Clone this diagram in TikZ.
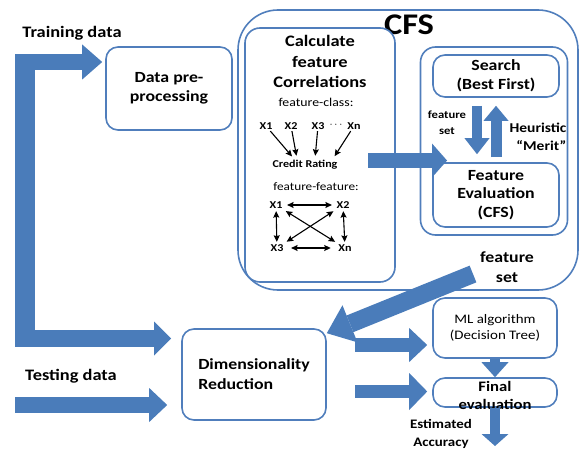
\documentclass[tikz,border=0pt]{standalone}
\usepackage{fontspec}
\setmainfont{Carlito}[FakeStretch=1.15]
\usetikzlibrary{arrows.meta,positioning}

\definecolor{boxblue}{RGB}{80,126,188}
\definecolor{arrowblue}{RGB}{74,124,186}

\newcommand{\fsz}[2]{\fontsize{#1}{#2}\selectfont}

\begin{document}
\begin{tikzpicture}[x=1pt,y=-1pt,
    box/.style={draw=boxblue, line width=1.6pt, rounded corners=12pt,
                fill=white, align=center, inner sep=2pt},
    fat/.style n args={3}{draw=arrowblue, line width=#1,
                -{Triangle[width=#2,length=#3,line width=0pt,color=arrowblue,fill=arrowblue]}},
    corr/.style={line width=1.1pt, -{Stealth[length=6.5pt,width=6pt,inset=1pt]}},
    corr2/.style={line width=1.1pt,
                {Stealth[length=6.5pt,width=6pt,inset=1pt]}-{Stealth[length=6.5pt,width=6pt,inset=1pt]}},
    xvar/.style={font=\bfseries\fsz{10.5}{12}, inner sep=1.5pt},
    head/.style={font=\bfseries\fsz{15.5}{19.5}, align=center, inner sep=0pt}]

  \useasboundingbox (0,0) rectangle (581,449);

  % inputs
  \node[head, font=\bfseries\fsz{16}{19}] (train) at (72,33)  {Training data};
  \node[head, font=\bfseries\fsz{16}{19}] (test)  at (71,376) {Testing data};

  \node[box, minimum width=126pt, minimum height=83pt, font=\bfseries\fsz{15.5}{19.5}]
        (prep) at (169,88.5) {Data pre-\\processing};

  % CFS block
  \node[box, minimum width=340pt, minimum height=280pt, rounded corners=40pt]
        (cfs) at (408,150) {};
  \node[font=\bfseries\fsz{30}{30}, inner sep=0pt] (cfstitle) at (409,25) {CFS};

  \node[box, minimum width=150pt, minimum height=254pt, rounded corners=15pt]
        (calc) at (320,155) {};
  \node[head, font=\bfseries\fsz{16}{20.5}] (calctitle) at (320,61.5)
        {Calculate\\feature\\Correlations};
  \node[font=\fsz{12}{14}, inner sep=0pt] (fclass) at (316,102) {feature-class:};

  \node[xvar] (c1)    at (266,126) {X1};
  \node[xvar] (c2)    at (291,126) {X2};
  \node[xvar] (c3)    at (318,126) {X3};
  \node[xvar] (cdots) at (336,125) {$\cdots$};
  \node[xvar] (cn)    at (354,126) {Xn};
  \node[xvar] (cr)    at (305,165) {Credit Rating};

  \draw[corr, shorten >=3pt] (c1) -- ([xshift=-11pt]cr.north);
  \draw[corr, shorten >=3pt] (c2) -- ([xshift=-8pt]cr.north);
  \draw[corr, shorten >=3pt] (c3) -- ([xshift=10pt]cr.north);
  \draw[corr, shorten >=3pt] (cn) -- ([xshift=28pt]cr.north);

  \node[font=\fsz{11.5}{14}, inner sep=0pt] (ffeat) at (316,187) {feature-feature:};
  \node[xvar] (f1) at (276,205) {X1};
  \node[xvar] (f2) at (343,205) {X2};
  \node[xvar] (f3) at (277,248) {X3};
  \node[xvar] (f4) at (345,248) {Xn};

  \draw[corr2, shorten <=3pt, shorten >=3pt] (f1) -- (f2);
  \draw[corr2, shorten <=1pt, shorten >=1pt] (f1) -- (f3);
  \draw[corr2, shorten <=1pt, shorten >=1pt] (f2) -- (f4);
  \draw[corr2, shorten <=6pt, shorten >=6pt] (f3) -- (f4);
  \draw[corr2, shorten <=2pt, shorten >=2pt] (f1) -- (f4);
  \draw[corr2, shorten <=2pt, shorten >=2pt] (f2) -- (f3);

  % search loop
  \node[box, minimum width=147pt, minimum height=188pt, rounded corners=15pt]
        (loop) at (494,141) {};
  \node[box, minimum width=126pt, minimum height=42pt, font=\bfseries\fsz{15.5}{19}]
        (search) at (496,76) {Search\\(Best First)};
  \node[box, minimum width=126pt, minimum height=64pt, font=\bfseries\fsz{15.5}{18.5}]
        (feval) at (496,195) {Feature\\Evaluation\\(CFS)};

  \draw[fat={10pt}{25pt}{16pt}, shorten <=8pt, shorten >=8pt]
        ([xshift=-19pt]search.south) -- ([xshift=-19pt]feval.north);
  \draw[fat={11pt}{25pt}{15pt}, shorten <=5pt, shorten >=8pt]
        (feval.north) -- (search.south);
  \node[font=\bfseries\fsz{11}{16}, align=center, inner sep=0pt] (fsetin) at (447,123)
        {feature\\set};
  \node[font=\bfseries\fsz{13.5}{18}, align=right, inner sep=0pt] (merit) at (538,137)
        {Heuristic\\“Merit”};

  \coordinate (calcout) at (368,160.5);
  \coordinate (evalin)  at (447,160.5);
  \draw[fat={15pt}{34pt}{15pt}] (calcout) -- (evalin);

  \node[head, font=\bfseries\fsz{15.5}{20}] (fsetout) at (507,267) {feature\\set};

  % classification
  \node[box, minimum width=144pt, minimum height=91pt, align=left,
        font=\bfseries\fsz{15.5}{20}] (dimred) at (254,374.5) {Dimensionality\\Reduction};
  \node[box, minimum width=124pt, minimum height=60pt, font=\fsz{13}{16}]
        (ml) at (495,328) {ML algorithm\\(Decision Tree)};
  \node[box, minimum width=124pt, minimum height=29pt] (final) at (495,392.5) {};
  \node[head, font=\bfseries\fsz{14.5}{18}] (finaltxt) at (495,395) {Final\\evaluation};
  \node[head, font=\bfseries\fsz{13}{18}] (acc) at (441,434) {Estimated\\Accuracy};

  % block arrows
  \coordinate (trunktop) at (25,62);
  \coordinate (trunkbot) at (25,338.5);
  \coordinate (testin)   at (15,405);
  \fill[arrowblue] (15,54) rectangle (35,347);
  \draw[fat={16pt}{35pt}{20pt}, shorten >=3pt]  (trunktop) -- (trunktop -| prep.west);
  \draw[fat={17pt}{34pt}{17pt}, shorten >=10pt] (trunkbot) -- (trunkbot -| dimred.west);
  \draw[fat={16pt}{34pt}{18pt}, shorten >=14pt] (testin) -- (testin -| dimred.west);

  \coordinate (fsetstart) at (473,274);
  \draw[fat={18pt}{40pt}{25pt}] (fsetstart) -- ([yshift=-5pt]dimred.north east);

  \coordinate (dimout1) at (355,345);
  \coordinate (dimout2) at (355,391.5);
  \draw[fat={14pt}{34pt}{18pt}, shorten >=5pt] (dimout1) -- (dimout1 -| ml.west);
  \draw[fat={13pt}{37pt}{18pt}, shorten >=5pt] (dimout2) -- (dimout2 -| final.west);
  \draw[fat={10pt}{27pt}{15pt}] (ml.south) -- (final.north);
  \coordinate (accout) at (495,446);
  \draw[fat={10pt}{27pt}{12pt}] (final.south) -- (accout);
\end{tikzpicture}
\end{document}
